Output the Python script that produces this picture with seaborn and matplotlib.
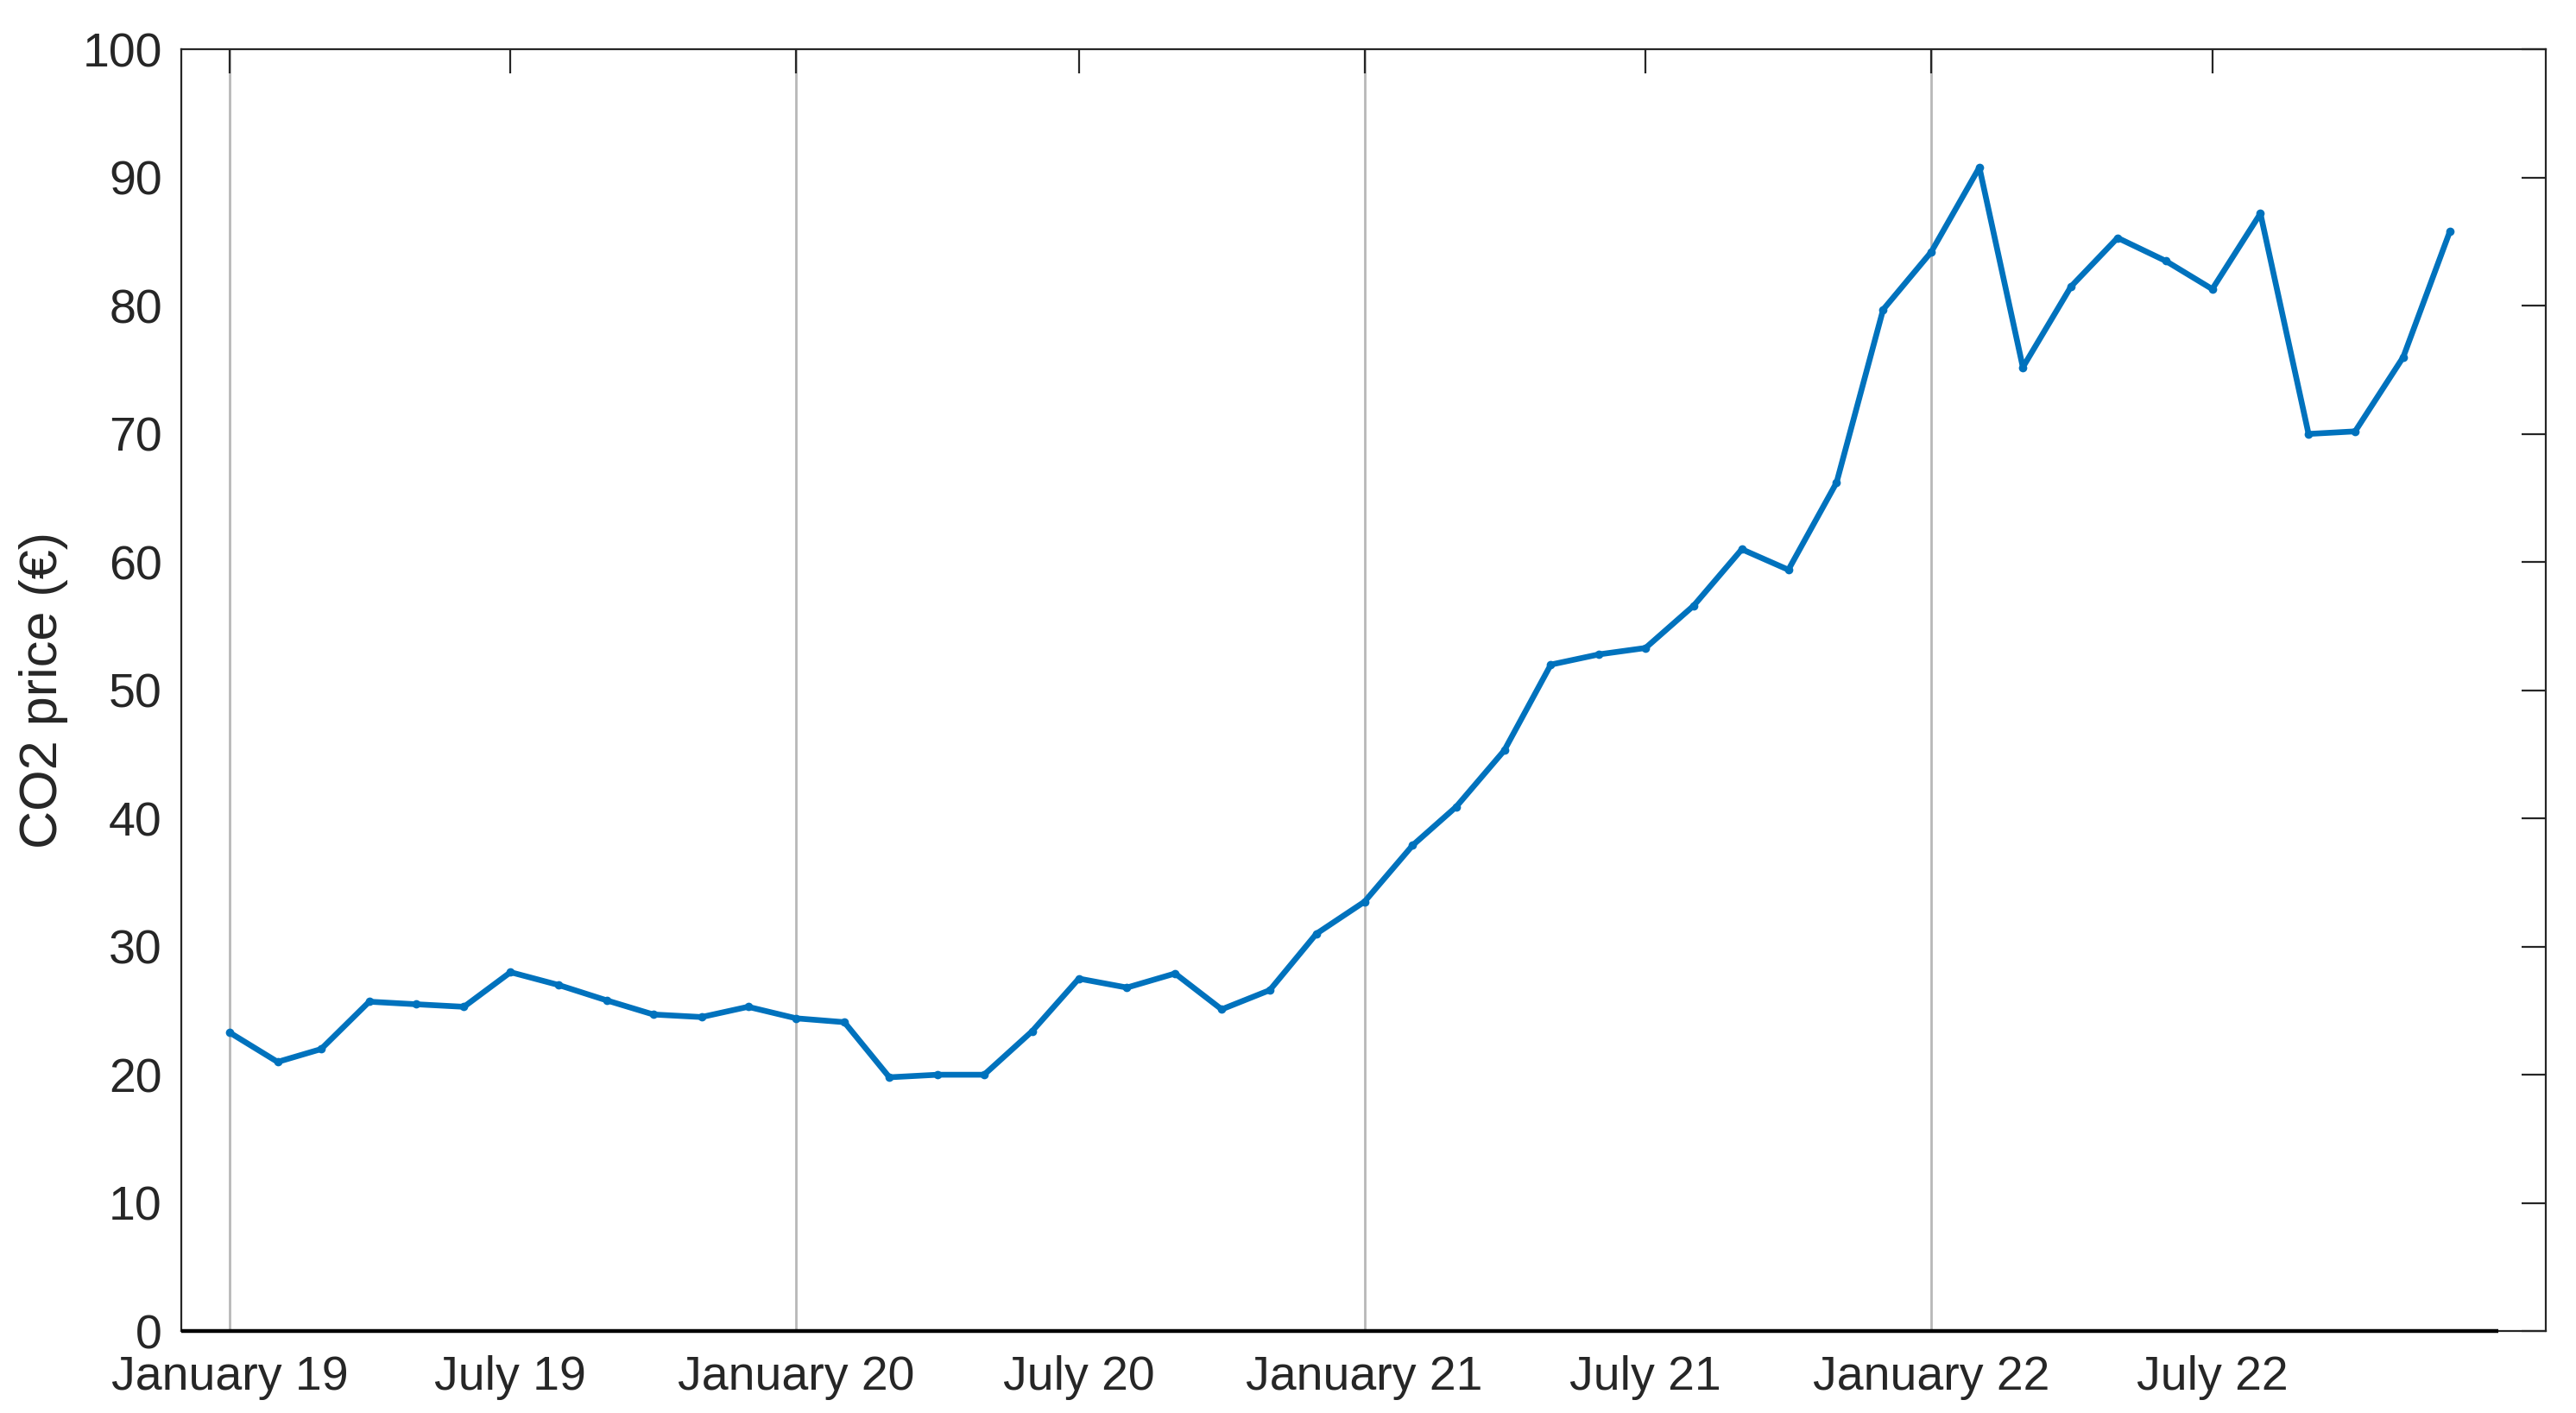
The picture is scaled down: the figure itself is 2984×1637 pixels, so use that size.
import matplotlib
matplotlib.use("Agg")
import matplotlib.pyplot as plt
import matplotlib.dates as mdates
import seaborn as sns
import numpy as np
import pandas as pd

# monthly CO2 price, Jan 2019 .. Dec 2022
months = pd.date_range("2019-01-01", periods=48, freq="MS")
co2_price = [
    23.3, 21.0, 22.0, 25.7, 25.5, 25.3, 28.0, 27.0, 25.8, 24.7, 24.5, 25.3,
    24.4, 24.1, 19.8, 20.0, 20.0, 23.4, 27.5, 26.8, 27.9, 25.1, 26.6, 31.0,
    33.5, 37.9, 40.9, 45.3, 52.0, 52.8, 53.3, 56.6, 61.0, 59.4, 66.2, 79.7,
    84.2, 90.8, 75.2, 81.5, 85.3, 83.5, 81.3, 87.2, 70.0, 70.2, 76.0, 85.8,
]
x_ticks = pd.date_range("2019-01-01", "2022-07-01", freq="6MS")
grid_dates = pd.date_range("2019-01-01", "2022-01-01", freq="YS")
y_ticks = list(range(0, 101, 10))
y_label = "CO2 price (€)"

df = pd.DataFrame({"month": months, "price": co2_price})

sns.set_theme(style="white")
plt.rcParams["font.family"] = ["Liberation Sans", "DejaVu Sans"]
plt.rcParams["font.size"] = 20

fig = plt.figure(figsize=(14.92, 8.185), dpi=200)
ax = fig.add_axes([0.0704, 0.058, 0.918, 0.907])

# january gridlines
for d in grid_dates:
    ax.axvline(d, color="#b8b8b8", lw=1.0, zorder=0)

sns.lineplot(data=df, x="month", y="price", ax=ax, color="#0072BD", lw=2.4,
             marker="o", markersize=3.5, markeredgewidth=0)

# black baseline along the bottom
ax.hlines(0, pd.Timestamp("2018-12-01"), pd.Timestamp("2023-01-01"),
          color="black", lw=1.6, zorder=5, clip_on=False)

ax.set_xlim(pd.Timestamp("2018-12-01"), pd.Timestamp("2023-02-01"))
ax.set_ylim(0, 100)
ax.set_yticks(y_ticks)
ax.set_xticks(x_ticks)
ax.xaxis.set_major_formatter(mdates.DateFormatter("%B %y"))

for s in ax.spines.values():
    s.set_color("#262626")
    s.set_linewidth(0.8)

ax.tick_params(direction="in", length=10, width=0.8, color="#262626",
               top=True, right=True, labelsize=20, labelcolor="#262626")
ax.tick_params(axis="x", pad=10)
ax.tick_params(axis="y", pad=8)

ax.set_xlabel("")
ax.set_ylabel(y_label, fontsize=22, color="#262626", labelpad=6)

fig.savefig("out.png", dpi=200)
